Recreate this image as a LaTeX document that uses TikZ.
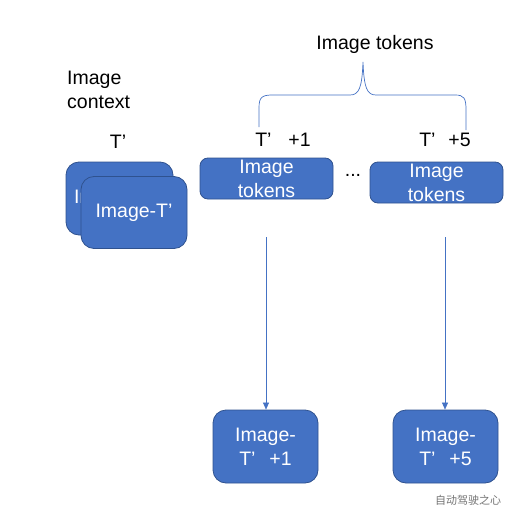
\documentclass[tikz,border=0pt]{standalone}
\usepackage{fontspec}
\setmainfont{Liberation Sans}
\newfontfamily\cjkfont{Noto Sans CJK SC}
\usepackage{xcolor}
\usetikzlibrary{
  arrows.meta,
  positioning,
  calc
}
\definecolor{tokenblue}{RGB}{68,114,196}
\definecolor{edgeblue}{RGB}{47,82,143}
\tikzset{
  imgbox/.style={
    draw=edgeblue,
    fill=tokenblue,
    line width=0.8pt,
    rounded corners=13pt,
    text=white,
    align=center,
    inner sep=0pt,
    minimum width=106pt,
    minimum height=72pt,
    font=\fontsize{19.5}{24}\selectfont
  },
  tokbox/.style={imgbox,rounded corners=8pt,minimum width=133pt,minimum height=41pt},
  plainlabel/.style={inner sep=0pt,align=center,font=\fontsize{19.5}{24}\selectfont},
  flowarrow/.style={-{Triangle[length=7pt,width=6pt]},line width=0.6pt,draw=tokenblue},
  bracepath/.style={line width=0.7pt,draw=tokenblue}
}

\begin{document}
\begin{tikzpicture}[x=1pt,y=-1pt]
  \useasboundingbox (0,0) rectangle (524,524);

  % image context
  \node[plainlabel,align=left,anchor=west] (ctxlabel) at (67,90) {Image\\context};
  \node[plainlabel] (ctxtime) at (118,142) {T’};
  \node[imgbox,minimum width=107pt,minimum height=73pt] (ctxback) at (119.5,198.5) {Image-T’\hspace{14pt}};
  \node[imgbox] (ctxfront) at (134,212.5) {Image-T’};

  % future image tokens
  \node[tokbox] (tok1) at (266.5,178.5) {Image\\tokens};
  \node[tokbox] (tok5) at (436.5,182.5) {Image\\tokens};
  \node[plainlabel] (dots) at (353,175) {...};
  \node[plainlabel] (time1) at (283,140) {T’\hspace{17pt}+1};
  \node[plainlabel] (time5) at (445,140) {T’\hspace{13pt}+5};
  \node[plainlabel] (toklabel) at (375,44) {Image tokens};

  \draw[bracepath] (259,127) -- (259,108) .. controls (259,97) and (262,95) .. (273,95)
    -- (350,95) .. controls (359,95) and (362,88) .. (363,62)
    .. controls (364,88) and (367,95) .. (376,95)
    -- (455,95) .. controls (464,95) and (466,98) .. (466,110) -- (466,130);

  % predicted frames
  \node[imgbox,minimum width=105pt,minimum height=73pt] (out1) at (265.5,446.5) {Image-\\T’\hspace{14pt}+1};
  \node[imgbox,minimum width=105pt,minimum height=73pt] (out5) at (445.5,446.5) {Image-\\T’\hspace{14pt}+5};

  \coordinate (from1) at (266,237);
  \coordinate (from5) at (445,237);
  \draw[flowarrow] (from1) -- (from1 |- out1.north);
  \draw[flowarrow] (from5) -- (from5 |- out5.north);

  \node[inner sep=0pt,text=black!55,font=\cjkfont\fontsize{11}{13}\selectfont] (mark) at (468,500) {自动驾驶之心};
\end{tikzpicture}
\end{document}
